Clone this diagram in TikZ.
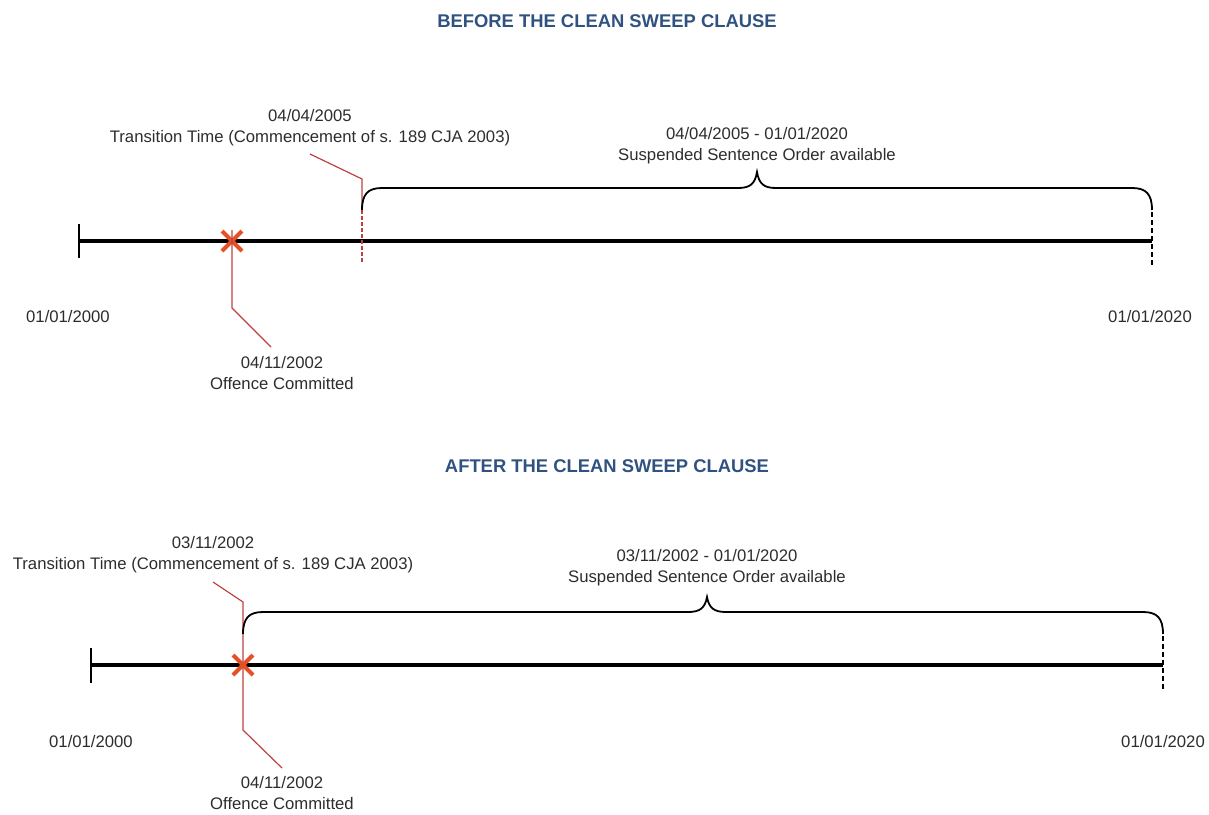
\documentclass[tikz,border=0pt]{standalone}
\usepackage{fontspec}
\setmainfont{Liberation Sans}
\usetikzlibrary{positioning}
\definecolor{titleblue}{RGB}{47,82,128}
\definecolor{crossred}{RGB}{228,80,40}
\definecolor{leadred}{RGB}{192,64,64}
\definecolor{labelgray}{RGB}{45,45,45}
\begin{document}
\begin{tikzpicture}[x=1pt, y=-1pt, every node/.append style={font=\fontsize{16.7}{21}\selectfont, text=labelgray, align=center, inner sep=0pt},
  heading/.style={font=\fontsize{18.4}{21}\selectfont\bfseries, text=titleblue},
  timeline/.style={line width=3.6pt}, tick/.style={line width=1.6pt},
  endtick/.style={line width=1.6pt, dash pattern=on 5pt off 3pt},
  leader/.style={leadred, line width=1.2pt}, brace/.style={line width=1.8pt},
  cross/.style={crossred, line width=4.2pt}]
  \useasboundingbox (0,0) rectangle (1209,814);
  % before
  \node[heading] (title1) at (607,21) {BEFORE THE CLEAN SWEEP CLAUSE};
  \coordinate (a0) at (79,241); \coordinate (a1) at (1152,241); \coordinate (ax) at (232,241); \coordinate (at) at (362,241);
  \draw[timeline] (a0) -- (a1);
  \draw[tick] (79,224) -- (79,258); \draw[endtick] (1152,212) -- (1152,265);
  \draw[cross] ([shift={(-10,-10)}]ax) -- ([shift={(10,10)}]ax) ([shift={(-10,10)}]ax) -- ([shift={(10,-10)}]ax);
  \node (trans1) at (310,128) {04/04/2005\\Transition Time (Commencement of s. 189 CJA 2003)};
  \node (span1) at (757,146) {04/04/2005 - 01/01/2020\\Suspended Sentence Order available};
  \node (start1) at (68,317) {01/01/2000};     \node (end1) at (1150,317) {01/01/2020};
  \node (off1) at (282,373) {04/11/2002\\Offence Committed};
  \draw[leader] (310,154) -- (362,179) -- (362,210); \draw[leader, dash pattern=on 4pt off 2pt] (362,210) -- (at) -- ++(0,22);
  \draw[leader] ([yshift=11]ax) -- (232,308) -- (271,347);
  \draw[brace] (362,210) .. controls (362,194) and (368,188) .. (382,188) -- (738,188) .. controls (750,188) and (755,184) .. (757,172)
    .. controls (759,184) and (764,188) .. (776,188) -- (1132,188) .. controls (1146,188) and (1152,194) .. (1152,210);
  % after
  \node[heading] (title2) at (607,466) {AFTER THE CLEAN SWEEP CLAUSE};
  \coordinate (b0) at (91,665); \coordinate (b1) at (1163,665); \coordinate (bx) at (243,665);
  \draw[timeline] (b0) -- (b1);
  \draw[tick] (91,648) -- (91,683); \draw[endtick] (1163,636) -- (1163,690);
  \node (trans2) at (213,555) {03/11/2002\\Transition Time (Commencement of s. 189 CJA 2003)};
  \node (span2) at (707,568) {03/11/2002 - 01/01/2020\\Suspended Sentence Order available};
  \node (start2) at (91,742) {01/01/2000};     \node (end2) at (1163,742) {01/01/2020};
  \node (off2) at (282,793) {04/11/2002\\Offence Committed};
  \draw[leader] (213,582) -- (243,602) -- (bx); \draw[leader] (bx) -- (243,730) -- (282,768);
  \draw[brace] (243,634) .. controls (243,618) and (249,612) .. (263,612) -- (688,612) .. controls (700,612) and (705,608) .. (707,597)
    .. controls (709,608) and (714,612) .. (726,612) -- (1143,612) .. controls (1157,612) and (1163,618) .. (1163,634);
  \draw[cross] ([shift={(-10,-10)}]bx) -- ([shift={(10,10)}]bx) ([shift={(-10,10)}]bx) -- ([shift={(10,-10)}]bx);
\end{tikzpicture}
\end{document}
